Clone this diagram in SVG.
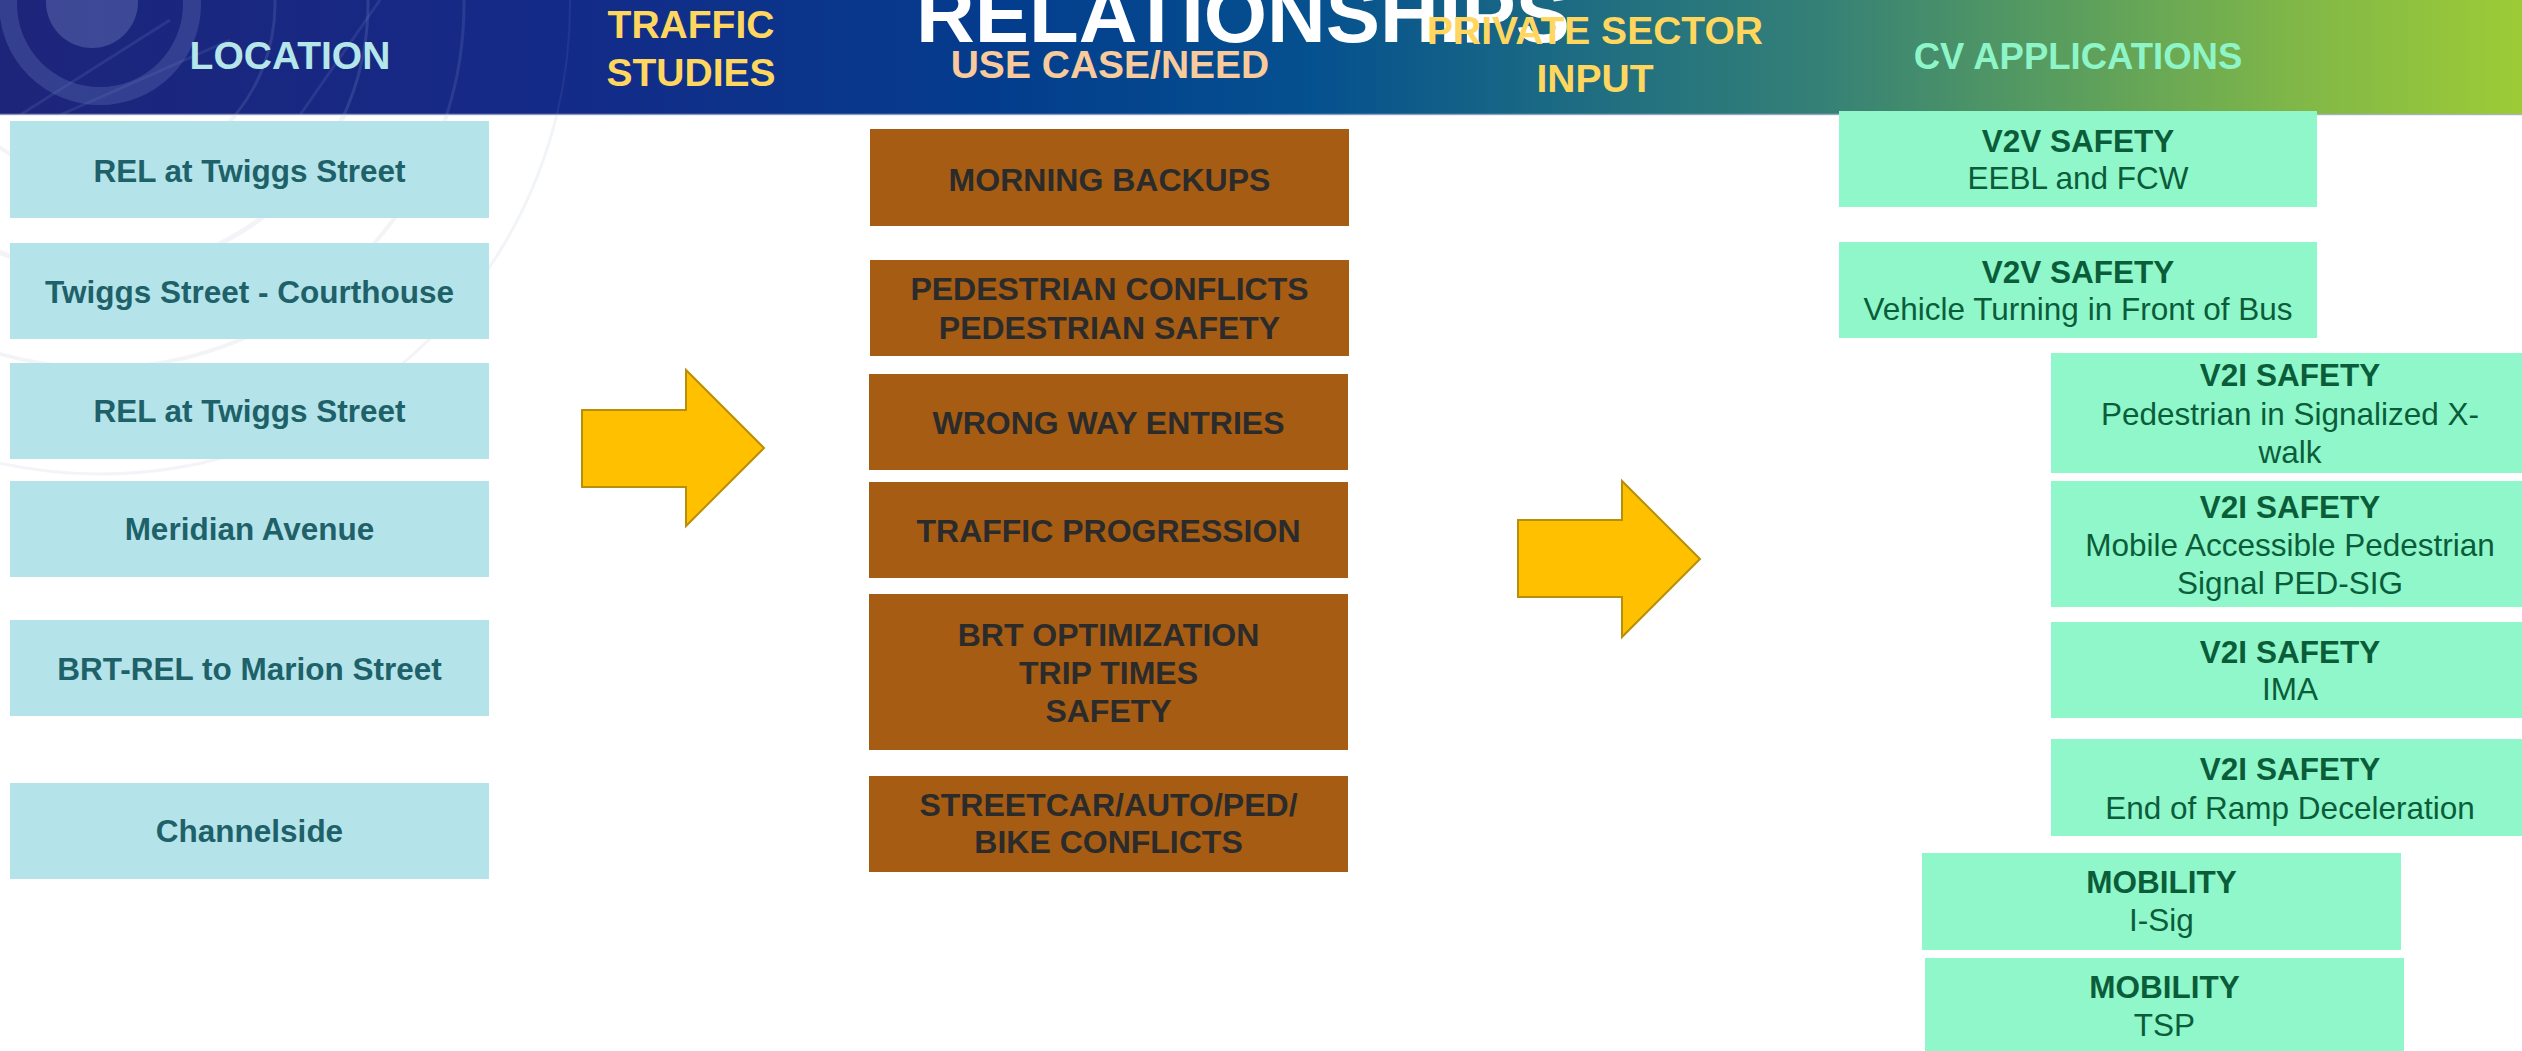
<svg xmlns="http://www.w3.org/2000/svg" width="2522" height="1051" viewBox="0 0 2522 1051">
  <defs>
    <linearGradient id="bandGrad" x1="0" y1="0" x2="2522" y2="0" gradientUnits="userSpaceOnUse">
      <stop offset="0" stop-color="#1d257a"/>
      <stop offset="0.22" stop-color="#142a88"/>
      <stop offset="0.40" stop-color="#033d8d"/>
      <stop offset="0.52" stop-color="#05508f"/>
      <stop offset="0.62" stop-color="#1c6b83"/>
      <stop offset="0.72" stop-color="#348077"/>
      <stop offset="0.82" stop-color="#5a9e5e"/>
      <stop offset="0.91" stop-color="#80b748"/>
      <stop offset="1" stop-color="#9dcb36"/>
    </linearGradient>
    <clipPath id="bandClip">
      <rect x="0" y="0" width="2522" height="115"/>
    </clipPath>
    <clipPath id="pageClip">
      <rect x="0" y="115" width="700" height="500"/>
    </clipPath>
    <style>
      text { font-family: "Liberation Sans", Arial, sans-serif; text-anchor: middle; }
      .hdr { font-weight: bold; font-size: 39px; }
      .title { font-weight: bold; font-size: 80px; fill: #ffffff; }
      .loc rect { fill: #b4e4e9; }
      .loc text { font-weight: bold; font-size: 31.5px; fill: #1e6169; }
      .need rect { fill: #a65c12; }
      .need text { font-weight: bold; font-size: 32px; fill: #2b2b2b; }
      .cv rect { fill: #8ff7ca; }
      .cv text { font-size: 31.5px; fill: #0b5d3a; }
      .cv text.h { font-weight: bold; }
      .arrow { fill: #ffc000; stroke: #b88f08; stroke-width: 2; stroke-linejoin: miter; }
    </style>
  </defs>

  <rect x="0" y="0" width="2522" height="1051" fill="#ffffff"/>

  <!-- header band with ring motif on the left -->
  <g id="header-band">
    <rect x="0" y="0" width="2522" height="115" fill="url(#bandGrad)"/>
    <g clip-path="url(#bandClip)">
      <circle cx="92" cy="2" r="46" fill="#5560a8" opacity="0.6"/>
      <circle cx="100" cy="4" r="92" fill="none" stroke="#44529f" stroke-width="18" opacity="0.6"/>
      <circle cx="100" cy="4" r="175" fill="none" stroke="#5563aa" stroke-width="3" opacity="0.35"/>
      <circle cx="100" cy="4" r="268" fill="none" stroke="#5a6ab2" stroke-width="3" opacity="0.35"/>
      <circle cx="100" cy="4" r="364" fill="none" stroke="#5a6ab2" stroke-width="3" opacity="0.3"/>
      <circle cx="100" cy="4" r="470" fill="none" stroke="#5a6ab2" stroke-width="2" opacity="0.2"/>
      <path d="M20 115 L170 20 M60 115 L230 40 M300 115 L380 0" stroke="#5a6ab2" stroke-width="3" opacity="0.25" fill="none"/>
    </g>
    <line x1="0" y1="114.5" x2="2522" y2="114.5" stroke="#a9b4cc" stroke-width="1.5" opacity="0.8"/>
  </g>

  <!-- faint rings continuing onto the page -->
  <g id="watermark" clip-path="url(#pageClip)" fill="none" stroke="#e3e8f0" opacity="0.45">
    <circle cx="100" cy="4" r="175" stroke-width="4"/>
    <circle cx="100" cy="4" r="268" stroke-width="5"/>
    <circle cx="100" cy="4" r="364" stroke-width="4"/>
    <circle cx="100" cy="4" r="470" stroke-width="3"/>
  </g>

  <!-- column headings -->
  <g id="headings">
    <text class="title" x="1243" y="42" textLength="654" lengthAdjust="spacingAndGlyphs">RELATIONSHIPS</text>
    <text class="hdr" x="290" y="69" fill="#b5e6ea">LOCATION</text>
    <text class="hdr" x="691" y="38" fill="#ffd75f">TRAFFIC</text>
    <text class="hdr" x="691" y="86" fill="#ffd75f">STUDIES</text>
    <text class="hdr" x="1110" y="78" fill="#f9cb9c">USE CASE/NEED</text>
    <text class="hdr" x="1595" y="44" fill="#ffd75f">PRIVATE SECTOR</text>
    <text class="hdr" x="1595" y="92" fill="#ffd75f">INPUT</text>
    <text class="hdr" x="2078" y="69" fill="#8ef5c9" style="font-size:36.5px">CV APPLICATIONS</text>
  </g>

  <!-- location column -->
  <g id="loc1" class="loc"><rect x="10" y="121" width="479" height="97"/><text x="249.5" y="182">REL at Twiggs Street</text></g>
  <g id="loc2" class="loc"><rect x="10" y="243" width="479" height="96"/><text x="249.5" y="303">Twiggs Street - Courthouse</text></g>
  <g id="loc3" class="loc"><rect x="10" y="363" width="479" height="96"/><text x="249.5" y="422">REL at Twiggs Street</text></g>
  <g id="loc4" class="loc"><rect x="10" y="481" width="479" height="96"/><text x="249.5" y="540">Meridian Avenue</text></g>
  <g id="loc5" class="loc"><rect x="10" y="620" width="479" height="96"/><text x="249.5" y="680">BRT-REL to Marion Street</text></g>
  <g id="loc6" class="loc"><rect x="10" y="783" width="479" height="96"/><text x="249.5" y="842">Channelside</text></g>

  <!-- use case / need column -->
  <g id="need1" class="need"><rect x="870" y="129" width="479" height="97"/><text x="1109.5" y="191">MORNING BACKUPS</text></g>
  <g id="need2" class="need"><rect x="870" y="260" width="479" height="96"/><text x="1109.5" y="300">PEDESTRIAN CONFLICTS</text><text x="1109.5" y="339">PEDESTRIAN SAFETY</text></g>
  <g id="need3" class="need"><rect x="869" y="374" width="479" height="96"/><text x="1108.5" y="434">WRONG WAY ENTRIES</text></g>
  <g id="need4" class="need"><rect x="869" y="482" width="479" height="96"/><text x="1108.5" y="542">TRAFFIC PROGRESSION</text></g>
  <g id="need5" class="need"><rect x="869" y="594" width="479" height="156"/><text x="1108.5" y="646">BRT OPTIMIZATION</text><text x="1108.5" y="684">TRIP TIMES</text><text x="1108.5" y="722">SAFETY</text></g>
  <g id="need6" class="need"><rect x="869" y="776" width="479" height="96"/><text x="1108.5" y="816">STREETCAR/AUTO/PED/</text><text x="1108.5" y="853">BIKE CONFLICTS</text></g>

  <!-- CV applications column -->
  <g id="cv1" class="cv"><rect x="1839" y="111" width="478" height="96"/><text class="h" x="2078" y="152">V2V SAFETY</text><text x="2078" y="189">EEBL and FCW</text></g>
  <g id="cv2" class="cv"><rect x="1839" y="242" width="478" height="96"/><text class="h" x="2078" y="283">V2V SAFETY</text><text x="2078" y="320">Vehicle Turning in Front of Bus</text></g>
  <g id="cv3" class="cv"><rect x="2051" y="353" width="478" height="120"/><text class="h" x="2290" y="386">V2I SAFETY</text><text x="2290" y="425">Pedestrian in Signalized X-</text><text x="2290" y="463">walk</text></g>
  <g id="cv4" class="cv"><rect x="2051" y="481" width="478" height="126"/><text class="h" x="2290" y="518">V2I SAFETY</text><text x="2290" y="556">Mobile Accessible Pedestrian</text><text x="2290" y="594">Signal PED-SIG</text></g>
  <g id="cv5" class="cv"><rect x="2051" y="622" width="478" height="96"/><text class="h" x="2290" y="663">V2I SAFETY</text><text x="2290" y="700">IMA</text></g>
  <g id="cv6" class="cv"><rect x="2051" y="739" width="478" height="97"/><text class="h" x="2290" y="780">V2I SAFETY</text><text x="2290" y="819">End of Ramp Deceleration</text></g>
  <g id="cv7" class="cv"><rect x="1922" y="853" width="479" height="97"/><text class="h" x="2161.5" y="893">MOBILITY</text><text x="2161.5" y="931">I-Sig</text></g>
  <g id="cv8" class="cv"><rect x="1925" y="958" width="479" height="96"/><text class="h" x="2164.5" y="998">MOBILITY</text><text x="2164.5" y="1036">TSP</text></g>

  <!-- block arrows between columns -->
  <g id="connectors">
    <path class="arrow" d="M582 410 L686 410 L686 370 L764 448 L686 526 L686 487 L582 487 Z"/>
    <path class="arrow" d="M1518 520 L1622 520 L1622 481 L1700 559 L1622 637 L1622 597 L1518 597 Z"/>
  </g>
</svg>
